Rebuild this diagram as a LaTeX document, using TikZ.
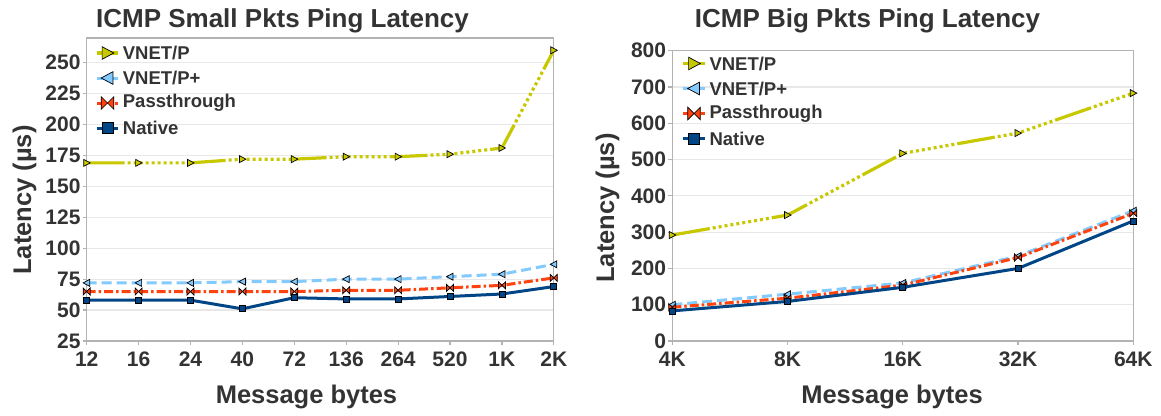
\documentclass[tikz,border=0pt]{standalone}
\usepackage{fontspec}
\setmainfont{Liberation Sans}
\usepackage{tikz}
\usetikzlibrary{calc}
\usepackage{xcolor}
\definecolor{clrvp}{RGB}{200, 200, 0}
\definecolor{clrvpp}{RGB}{131, 202, 255}
\definecolor{clrpt}{RGB}{255, 66, 14}
\definecolor{clrnt}{RGB}{0, 69, 134}
\definecolor{txtclr}{RGB}{51, 51, 51}
\definecolor{gridclr}{RGB}{232, 232, 232}
\definecolor{frameclr}{RGB}{179, 179, 179}
\tikzset{
  % Series lines
  lnvp/.style   = {line width=3.2pt, draw=clrvp, line join=round,
                   dash pattern=on 38pt off 3pt on 3pt off 3pt on 3pt off 3pt on 3pt off 3pt
                   on 3pt off 3pt on 3pt off 3pt on 3pt off 3pt on 3pt off 3pt on 3pt off 3pt
                   on 3pt off 3pt on 3pt off 3pt},
  lnvpp/.style  = {line width=3pt, draw=clrvpp, line join=round, dash pattern=on 10pt off 5pt},
  lnpt/.style   = {line width=3pt, draw=clrpt, line join=round,
                   dash pattern=on 9pt off 3pt on 2.5pt off 3pt},
  lnnt/.style   = {line width=3pt, draw=clrnt, line join=round},
  % Axes and grid
  gridln/.style = {draw=gridclr, line width=1.2pt},
  framel/.style = {draw=frameclr, line width=1.2pt},
  % Texts
  ticklab/.style = {font=\fontsize{21}{21}\selectfont\bfseries, text=txtclr, inner sep=0pt},
  axtitle/.style = {font=\fontsize{25.5}{25.5}\selectfont\bfseries, text=txtclr, inner sep=0pt},
  ctitle/.style  = {font=\fontsize{26}{26}\selectfont\bfseries, text=txtclr, inner sep=0pt},
  leglab/.style  = {font=\fontsize{18.5}{18.5}\selectfont\bfseries, text=txtclr, inner sep=0pt, anchor=west},
  % Markers
  mkvp/.pic  = {\path[fill=clrvp, draw=black, line width=0.7pt]
                (-3pt,-3.5pt) -- (3.5pt,0pt) -- (-3pt,3.5pt) -- cycle;},
  mkvpp/.pic = {\path[fill=clrvpp, draw=black, line width=0.7pt]
                (3pt,-3.5pt) -- (-3.5pt,0pt) -- (3pt,3.5pt) -- cycle;},
  mkpt/.pic  = {\path[fill=clrpt, draw=black, line width=0.7pt]
                (-3.5pt,-3.5pt) -- (0pt,0pt) -- (-3.5pt,3.5pt) -- cycle
                (3.5pt,-3.5pt) -- (0pt,0pt) -- (3.5pt,3.5pt) -- cycle;},
  mknt/.pic  = {\path[fill=clrnt, draw=black, line width=0.7pt]
                (-3pt,-3pt) rectangle (3pt,3pt);},
}

\begin{document}
\begin{tikzpicture}[x=1pt, y=-1pt]
  \useasboundingbox (0,0) rectangle (1161,415);

  % Left chart: small packets
  \node[ctitle, anchor=base] (ttl-l) at (282.5,27.5) {ICMP Small Pkts Ping Latency};
  \begin{scope}[shift={(86.7,341)}, x=51.9pt, y=1.237pt, shift={(0,-25)}]
    \foreach \v in {50,75,...,250}
      \draw[gridln] (0,\v) -- (9,\v);
    \draw[framel] (0,25) rectangle (9,270);
    \foreach \v in {25,50,...,250} {
      \draw[framel] (0,\v) -- ++(-4pt,0);
      \node[ticklab, anchor=east, xshift=-6pt] (ly-\v) at (0,\v) {\v};
    }
    \foreach \lab [count=\i from 0] in {12,16,24,40,72,136,264,520,1K,2K} {
      \draw[framel] (\i,25) -- ++(0,-4pt);
      \node[ticklab, anchor=base, yshift=-25.5pt] (lx-\i) at (\i,25) {\lab};
    }
    % data points
    \foreach \v [count=\i from 0] in {169,169,169,172,172,174,174,176,181,260}
      \coordinate (svp-\i) at (\i,\v);
    \foreach \v [count=\i from 0] in {72,72,72,73,73,75,75,77,79,87}
      \coordinate (svpp-\i) at (\i,\v);
    \foreach \v [count=\i from 0] in {65,65,65,65,65,66,66,68,70,76}
      \coordinate (spt-\i) at (\i,\v);
    \foreach \v [count=\i from 0] in {58,58,58,51,60,59,59,61,63,69}
      \coordinate (snt-\i) at (\i,\v);
    \draw[lnvp] (svp-0) \foreach \i in {1,...,9} { -- (svp-\i) };
    \foreach \i in {0,...,9} \pic at (svp-\i) {mkvp};
    \draw[lnvpp] (svpp-0) \foreach \i in {1,...,9} { -- (svpp-\i) };
    \foreach \i in {0,...,9} \pic at (svpp-\i) {mkvpp};
    \draw[lnpt] (spt-0) \foreach \i in {1,...,9} { -- (spt-\i) };
    \foreach \i in {0,...,9} \pic at (spt-\i) {mkpt};
    \draw[lnnt] (snt-0) \foreach \i in {1,...,9} { -- (snt-\i) };
    \foreach \i in {0,...,9} \pic at (snt-\i) {mknt};
  \end{scope}
  \node[axtitle, rotate=90] (yttl-l) at (24.5,200) {Latency (µs)};
  \node[axtitle, anchor=base] (xttl-l) at (306.5,403) {Message bytes};
  \foreach \ln/\mk/\lab [count=\i] in {lnvp/mkvp/VNET\slash P, lnvpp/mkvpp/VNET\slash P+,
                                       lnpt/mkpt/Passthrough, lnnt/mknt/Native} {
    \coordinate (lla-\i) at (97,28+25*\i);
    \coordinate (llb-\i) at (118,28+25*\i);
    \draw[\ln] (lla-\i) -- (llb-\i);
    \pic[scale=1.8] at ($(lla-\i)!0.5!(llb-\i)$) {\mk};
    \node[leglab] (llt-\i) at (122.7,28+25*\i) {\lab};
  }

  % Right chart: big packets
  \node[ctitle, anchor=base] (ttl-r) at (867.5,27.5) {ICMP Big Pkts Ping Latency};
  \begin{scope}[shift={(672.3,341)}, x=115.25pt, y=0.3629pt]
    \foreach \v in {100,200,...,700}
      \draw[gridln] (0,\v) -- (4,\v);
    \draw[framel] (0,0) rectangle (4,800);
    \foreach \v in {0,100,...,800} {
      \draw[framel] (0,\v) -- ++(-4pt,0);
      \node[ticklab, anchor=east, xshift=-6pt] (ry-\v) at (0,\v) {\v};
    }
    \foreach \lab [count=\i from 0] in {4K,8K,16K,32K,64K} {
      \draw[framel] (\i,0) -- ++(0,-4pt);
      \node[ticklab, anchor=base, yshift=-25.5pt] (rx-\i) at (\i,0) {\lab};
    }
    % data points
    \foreach \v [count=\i from 0] in {292,347,517,573,683}
      \coordinate (bvp-\i) at (\i,\v);
    \foreach \v [count=\i from 0] in {100,129,160,234,359}
      \coordinate (bvpp-\i) at (\i,\v);
    \foreach \v [count=\i from 0] in {93,118,154,230,352}
      \coordinate (bpt-\i) at (\i,\v);
    \foreach \v [count=\i from 0] in {83,109,148,200,331}
      \coordinate (bnt-\i) at (\i,\v);
    \draw[lnvp] (bvp-0) \foreach \i in {1,...,4} { -- (bvp-\i) };
    \foreach \i in {0,...,4} \pic at (bvp-\i) {mkvp};
    \draw[lnvpp] (bvpp-0) \foreach \i in {1,...,4} { -- (bvpp-\i) };
    \foreach \i in {0,...,4} \pic at (bvpp-\i) {mkvpp};
    \draw[lnpt] (bpt-0) \foreach \i in {1,...,4} { -- (bpt-\i) };
    \foreach \i in {0,...,4} \pic at (bpt-\i) {mkpt};
    \draw[lnnt] (bnt-0) \foreach \i in {1,...,4} { -- (bnt-\i) };
    \foreach \i in {0,...,4} \pic at (bnt-\i) {mknt};
  \end{scope}
  \node[axtitle, rotate=90] (yttl-r) at (607.5,208) {Latency (µs)};
  \node[axtitle, anchor=base] (xttl-r) at (892,403) {Message bytes};
  \foreach \ln/\mk/\lab [count=\i] in {lnvp/mkvp/VNET\slash P, lnvpp/mkvpp/VNET\slash P+,
                                       lnpt/mkpt/Passthrough, lnnt/mknt/Native} {
    \coordinate (rla-\i) at (683,38.5+25*\i);
    \coordinate (rlb-\i) at (705,38.5+25*\i);
    \draw[\ln] (rla-\i) -- (rlb-\i);
    \pic[scale=1.8] at ($(rla-\i)!0.5!(rlb-\i)$) {\mk};
    \node[leglab] (rlt-\i) at (709.3,38.5+25*\i) {\lab};
  }
\end{tikzpicture}
\end{document}
